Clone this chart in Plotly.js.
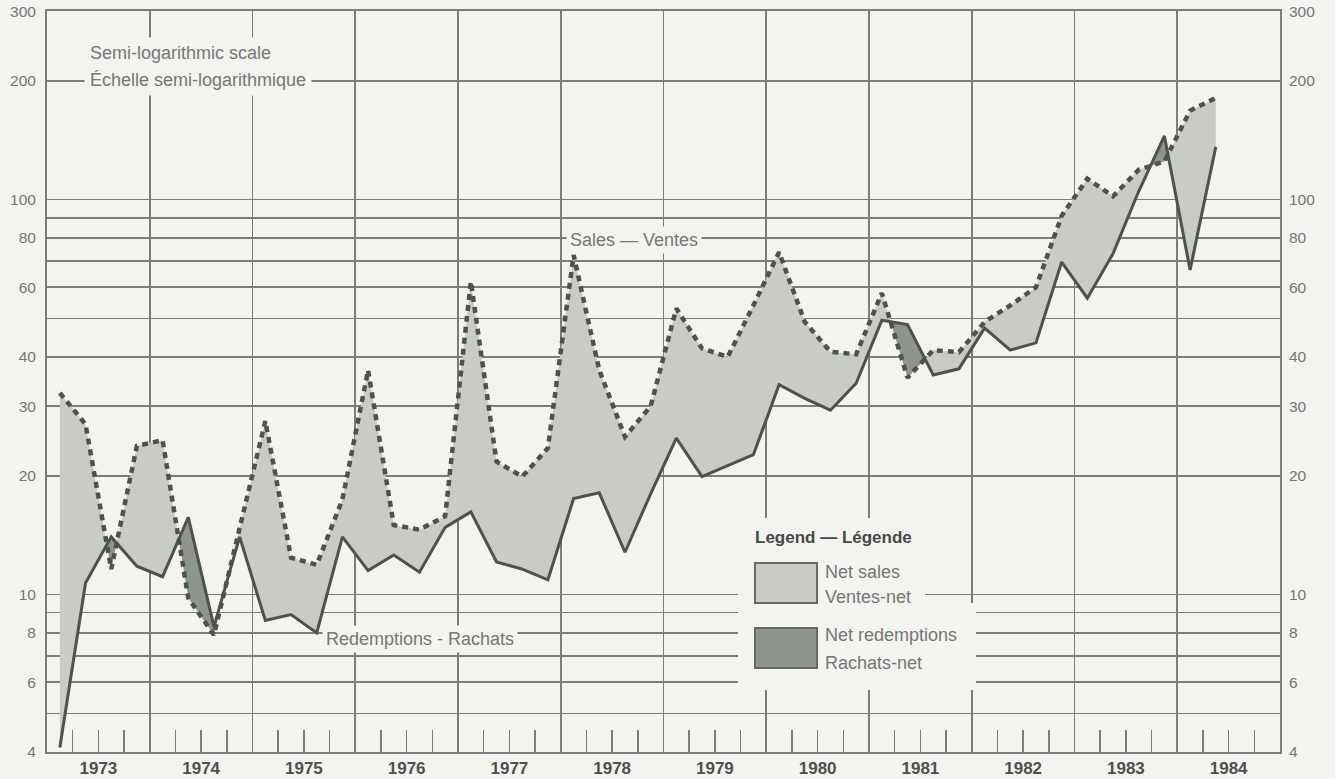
<!DOCTYPE html>
<html>
<head>
<meta charset="utf-8">
<script src="https://cdn.plot.ly/plotly-3.0.1.min.js"></script>
<style>
html,body{margin:0;padding:0;background:#f3f3f0;}
#chart{width:1335px;height:779px;}
</style>
</head>
<body>
<div id="chart"></div>
<script>
// ---- DATA (quarterly, millions of dollars) ----
const periods = [
  '1973-Q1','1973-Q2','1973-Q3','1973-Q4',
  '1974-Q1','1974-Q2','1974-Q3','1974-Q4',
  '1975-Q1','1975-Q2','1975-Q3','1975-Q4',
  '1976-Q1','1976-Q2','1976-Q3','1976-Q4',
  '1977-Q1','1977-Q2','1977-Q3','1977-Q4',
  '1978-Q1','1978-Q2','1978-Q3','1978-Q4',
  '1979-Q1','1979-Q2','1979-Q3','1979-Q4',
  '1980-Q1','1980-Q2','1980-Q3','1980-Q4',
  '1981-Q1','1981-Q2','1981-Q3','1981-Q4',
  '1982-Q1','1982-Q2','1982-Q3','1982-Q4',
  '1983-Q1','1983-Q2','1983-Q3','1983-Q4',
  '1984-Q1','1984-Q2'
];
const sales = [
  32.4, 27, 11.6, 23.8,
  24.6, 9.8, 7.9, 14.8,
  27.5, 12.4, 11.9, 17.4,
  37, 15.0, 14.6, 15.8,
  62, 21.7, 19.9, 23.5,
  72.4, 37, 25.1, 30,
  53, 42, 40, 54,
  73.6, 49, 41.2, 40.6,
  58, 35.4, 41.6, 41.1,
  49, 54, 60, 91,
  113, 102, 119, 125,
  168, 181
];
const redemptions = [
  4.1, 10.7, 14.0, 11.8,
  11.1, 15.7, 8.3, 14.0,
  8.6, 8.9, 8.0, 14.0,
  11.5, 12.6, 11.4, 14.8,
  16.2, 12.1, 11.6, 10.9,
  17.5, 18.1, 12.8, 18,
  24.9, 19.9, 21.2, 22.6,
  34, 31.4, 29.3, 34.3,
  49.5, 48.3, 36, 37.3,
  47.3, 41.6, 43.4, 69.5,
  56.3, 73, 105, 145,
  66.4, 136
];
const yearLabels = ['1973','1974','1975','1976','1977','1978','1979','1980','1981','1982','1983','1984'];
const yTickVals = [4,5,6,7,8,9,10,20,30,40,50,60,70,80,90,100,200,300];
const yTickText = ['4','','6','','8','','10','20','30','40','','60','','80','','100','200','300'];

// ---- styling ----
const BG = '#f3f3f0';
const GRID = '#7c7c7c';
const LINE = '#4d524d';
const LIGHT = '#c8cbc6';
const DARK = '#8e948e';
const TXT = '#767676';
const FONT = '"Liberation Sans", Arial, Helvetica, sans-serif';

// ---- derived positions ----
function periodToX(p){ const parts = p.split('-Q'); return (+parts[0]) + ((+parts[1]) - 0.5)/4; }
const xs = periods.map(periodToX);
const firstYear = +yearLabels[0];
const lastYear = +yearLabels[yearLabels.length-1];
const yearBounds = [];
for (let y = firstYear; y <= lastYear + 1; y++) yearBounds.push(y);
const quarterTicks = [];
yearLabels.forEach(y => { [0.25,0.5,0.75].forEach(f => quarterTicks.push(+y + f)); });

// ---- fill regions between the two series (crossings in log space) ----
const L = v => Math.log10(v);
const runs = [];
let cur = null;
for (let i = 0; i < xs.length; i++) {
  const d = L(sales[i]) - L(redemptions[i]);
  const sign = d >= 0 ? 1 : -1;
  const pt = {x: xs[i], s: sales[i], r: redemptions[i]};
  if (!cur) { cur = {sign, pts: [pt]}; continue; }
  if (sign === cur.sign) { cur.pts.push(pt); }
  else {
    const dPrev = L(sales[i-1]) - L(redemptions[i-1]);
    const t = dPrev / (dPrev - d);
    const xc = xs[i-1] + t * (xs[i] - xs[i-1]);
    const vc = Math.pow(10, L(redemptions[i-1]) + t * (L(redemptions[i]) - L(redemptions[i-1])));
    const cp = {x: xc, s: vc, r: vc};
    cur.pts.push(cp);
    runs.push(cur);
    cur = {sign, pts: [cp, pt]};
  }
}
runs.push(cur);

const traces = [];
runs.forEach(run => {
  const px = run.pts.map(p => p.x);
  const top = run.pts.map(p => p.s);
  const bot = run.pts.map(p => p.r);
  traces.push({
    x: px.concat(px.slice().reverse()),
    y: top.concat(bot.slice().reverse()),
    type: 'scatter', mode: 'lines', fill: 'toself',
    fillcolor: run.sign > 0 ? LIGHT : DARK,
    line: {width: 0}, hoverinfo: 'skip', showlegend: false
  });
});
traces.push({
  x: xs, y: redemptions, type: 'scatter', mode: 'lines',
  line: {color: LINE, width: 3}, name: 'Redemptions - Rachats', showlegend: false
});
traces.push({
  x: xs, y: sales, type: 'scatter', mode: 'lines',
  line: {color: LINE, width: 4.5, dash: '6px,5px'}, name: 'Sales — Ventes', showlegend: false
});
// helper traces so the overlay axes are drawn
traces.push({x: [xs[0]], y: [sales[0]], xaxis: 'x2', yaxis: 'y', mode: 'markers', marker: {opacity: 0}, hoverinfo: 'skip', showlegend: false});
traces.push({x: [xs[0]], y: [sales[0]], xaxis: 'x', yaxis: 'y2', mode: 'markers', marker: {opacity: 0}, hoverinfo: 'skip', showlegend: false});

// ---- layout helpers: pixel -> paper ----
const W = 1335, H = 779, ML = 47, MR = 55, MT = 11, MB = 27;
const PW = W - ML - MR, PH = H - MT - MB;
const px = x => (x - ML) / PW;
const py = y => (H - MB - y) / PH;

const yRange = [L(4) - 0.0006, L(300) + 0.0006];
const xRange = [firstYear, lastYear + 1];

function txt(text, x, y, opts) {
  return Object.assign({
    text, xref: 'paper', yref: 'paper', x: px(x), y: py(y),
    xanchor: 'left', yanchor: 'middle', showarrow: false,
    font: {family: FONT, size: 18, color: TXT}
  }, opts || {});
}
function rect(x0, y0, x1, y1, fill, line) {
  return {type: 'rect', xref: 'paper', yref: 'paper', x0: px(x0), x1: px(x1), y0: py(y1), y1: py(y0),
    fillcolor: fill, line: line || {width: 0}, layer: 'above'};
}

const layout = {
  width: W, height: H,
  paper_bgcolor: BG, plot_bgcolor: BG,
  margin: {l: ML, r: MR, t: MT, b: MB, pad: 0},
  showlegend: false,
  font: {family: FONT, color: TXT},
  xaxis: {
    range: xRange, tickmode: 'array',
    tickvals: yearLabels.map(y => +y + 0.5),
    ticktext: yearLabels.map(y => '<b>' + y + '</b>'),
    ticks: '', showgrid: false, zeroline: false,
    showline: true, mirror: true, linecolor: GRID, linewidth: 2,
    tickfont: {family: FONT, size: 17, color: '#4f4f4f'},
    minor: {tickmode: 'array', tickvals: quarterTicks, ticks: 'inside', ticklen: 22, tickwidth: 1.5, tickcolor: GRID, showgrid: false}
  },
  xaxis2: {
    overlaying: 'x', anchor: 'y', range: xRange, tickmode: 'array', tickvals: yearBounds,
    showticklabels: false, ticks: '', showgrid: true, gridcolor: GRID, gridwidth: 1.6, zeroline: false
  },
  yaxis: {
    type: 'log', range: yRange, tickmode: 'array', tickvals: yTickVals, ticktext: yTickText,
    showgrid: true, gridcolor: GRID, gridwidth: 1.6, ticks: '', zeroline: false,
    showline: true, mirror: true, linecolor: GRID, linewidth: 2,
    ticklabelstandoff: 6,
    tickfont: {family: FONT, size: 15.5, color: TXT}
  },
  yaxis2: {
    type: 'log', overlaying: 'y', side: 'right', anchor: 'x', range: yRange,
    tickmode: 'array', tickvals: yTickVals, ticktext: yTickText,
    showgrid: false, ticks: '', zeroline: false, showline: false,
    ticklabelstandoff: 8,
    tickfont: {family: FONT, size: 15.5, color: TXT}
  },
  shapes: [
    rect(738, 518, 925, 690, BG),
    rect(925, 603, 976, 690, BG),
    rect(755, 563, 817, 603, LIGHT, {color: '#666a66', width: 2}),
    rect(755, 628, 817, 668, DARK, {color: '#666a66', width: 2})
  ],
  annotations: [
    txt('Semi-logarithmic scale', 84, 53, {bgcolor: BG, borderpad: 5}),
    txt('Échelle semi-logarithmique', 84, 80, {bgcolor: BG, borderpad: 5}),
    txt('Sales — Ventes', 566, 240, {bgcolor: BG, borderpad: 3}),
    txt('Redemptions - Rachats', 322, 639, {bgcolor: BG, borderpad: 3}),
    txt('<b>Legend — Légende</b>', 753, 537, {font: {family: FONT, size: 17, color: '#474747'}}),
    txt('Net sales', 823, 572),
    txt('Ventes-net', 823, 597),
    txt('Net redemptions', 823, 635),
    txt('Rachats-net', 823, 663)
  ]
};

Plotly.newPlot('chart', traces, layout, {displayModeBar: false, staticPlot: true});
</script>
</body>
</html>
